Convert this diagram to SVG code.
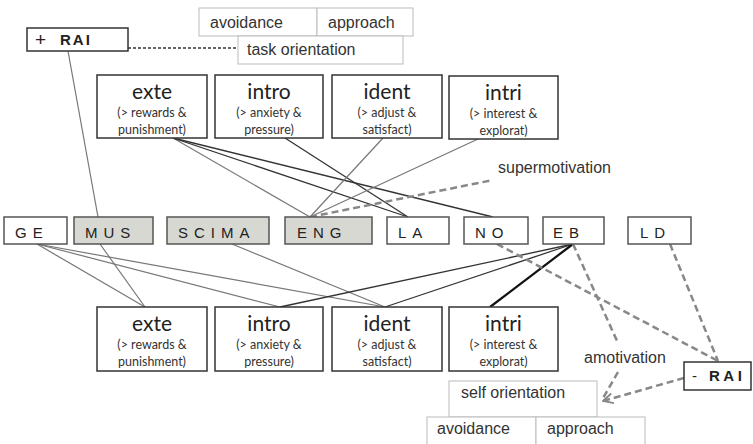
<svg xmlns="http://www.w3.org/2000/svg" width="753" height="444" viewBox="0 0 753 444">
  <style>
    .box { fill: #fff; stroke: #333; stroke-width: 1.5; }
    .mid { fill: #fff; stroke: #555; stroke-width: 1.5; }
    .mid.shade { fill: #d8d8d2; }
    .light { fill: #fff; stroke: #bbb; stroke-width: 1; }
    .title { font-family: Lato, "Open Sans", sans-serif; font-size: 21px; fill: #222; text-anchor: middle; }
    .sub { font-family: Lato, "Open Sans", sans-serif; font-size: 12.5px; fill: #333; text-anchor: middle; }
    .lbl { font-family: "Liberation Sans", Arial, sans-serif; font-size: 15px; fill: #222; letter-spacing: 6px; }
    .txt { font-family: "Liberation Sans", Arial, sans-serif; font-size: 16px; fill: #333; }
    .rai { font-family: "Liberation Sans", Arial, sans-serif; font-size: 15px; fill: #222; }
    .rai.sign { font-size: 19px; }
    .c-gray { stroke: #777; stroke-width: 1.2; fill: none; }
    .c-dark { stroke: #333; stroke-width: 1.3; fill: none; }
    .c-bold { stroke: #111; stroke-width: 2.2; fill: none; }
    .c-dash { stroke: #888; stroke-width: 2.5; stroke-dasharray: 7 4; fill: none; }
    .c-dot { stroke: #333; stroke-width: 1.5; stroke-dasharray: 3 2; fill: none; }
  </style>
  <defs>
    <marker id="arrow" viewBox="0 0 10 10" refX="9" refY="5" markerWidth="5" markerHeight="5" orient="auto" markerUnits="strokeWidth">
      <path d="M1,1 L9,5 L1,9" fill="none" stroke="#888" stroke-width="1.5"/>
    </marker>
  </defs>

  <!-- connectors -->
  <g id="connectors">
    <line class="c-dot" x1="128" y1="48" x2="238" y2="48"/>
    <line class="c-gray" x1="68" y1="51" x2="98" y2="217"/>
    <!-- upper motivation boxes to school subjects -->
    <line class="c-gray" x1="173" y1="138" x2="310" y2="217"/>
    <line class="c-dark" x1="173" y1="138" x2="408" y2="217"/>
    <line class="c-dark" x1="173" y1="138" x2="493" y2="217"/>
    <line class="c-dark" x1="285" y1="138" x2="408" y2="217"/>
    <line class="c-gray" x1="383" y1="138" x2="310" y2="217"/>
    <line class="c-gray" x1="478" y1="139" x2="310" y2="217"/>
    <line class="c-dash" x1="310" y1="217" x2="493" y2="180"/>
    <!-- school subjects to lower motivation boxes -->
    <line class="c-gray" x1="37" y1="244" x2="145" y2="307"/>
    <line class="c-gray" x1="37" y1="244" x2="280" y2="307"/>
    <line class="c-gray" x1="37" y1="244" x2="385" y2="307"/>
    <line class="c-gray" x1="100" y1="244" x2="145" y2="307"/>
    <line class="c-gray" x1="232" y1="244" x2="385" y2="307"/>
    <line class="c-dark" x1="573" y1="244" x2="280" y2="307"/>
    <line class="c-dark" x1="573" y1="244" x2="385" y2="307"/>
    <line class="c-bold" x1="573" y1="244" x2="490" y2="307"/>
    <!-- amotivation paths -->
    <line class="c-dash" x1="497" y1="244" x2="718" y2="361"/>
    <line class="c-dash" x1="670" y1="244" x2="718" y2="361"/>
    <line class="c-dash" x1="573" y1="244" x2="618" y2="343"/>
    <line class="c-dash" x1="618" y1="372" x2="602" y2="400"/>
    <line class="c-dash" x1="684" y1="378" x2="603" y2="401" marker-end="url(#arrow)"/>
  </g>

  <!-- task orientation -->
  <g id="task-avoidance">
    <rect class="light" x="199" y="8" width="118" height="28"/>
    <text class="txt" x="210" y="28">avoidance</text>
  </g>
  <g id="task-approach">
    <rect class="light" x="317" y="8" width="96" height="28"/>
    <text class="txt" x="328" y="28">approach</text>
  </g>
  <g id="task-orientation">
    <rect class="light" x="238" y="36" width="165" height="28"/>
    <text class="txt" x="247" y="55">task orientation</text>
  </g>
  <g id="rai-plus">
    <rect class="box" x="27" y="28" width="101" height="23"/>
    <text class="rai sign" x="35" y="46">+</text>
    <text class="rai" x="60" y="45" font-weight="bold" letter-spacing="2">RAI</text>
  </g>

  <!-- upper motivation boxes -->
  <g id="top-exte">
    <rect class="box" x="97" y="75" width="110" height="63"/>
    <text class="title" x="152" y="99">exte</text>
    <text class="sub" x="152" y="117">(&gt; rewards &amp;</text>
    <text class="sub" x="152" y="134">punishment)</text>
  </g>
  <g id="top-intro">
    <rect class="box" x="215" y="75" width="108" height="63"/>
    <text class="title" x="269" y="99">intro</text>
    <text class="sub" x="269" y="117">(&gt; anxiety &amp;</text>
    <text class="sub" x="269" y="134">pressure)</text>
  </g>
  <g id="top-ident">
    <rect class="box" x="332" y="75" width="110" height="63"/>
    <text class="title" x="387" y="99">ident</text>
    <text class="sub" x="387" y="117">(&gt; adjust &amp;</text>
    <text class="sub" x="387" y="134">satisfact)</text>
  </g>
  <g id="top-intri">
    <rect class="box" x="449" y="76" width="109" height="63"/>
    <text class="title" x="503.5" y="100">intri</text>
    <text class="sub" x="503.5" y="118">(&gt; interest &amp;</text>
    <text class="sub" x="503.5" y="135">explorat)</text>
  </g>

  <text class="txt" x="498" y="173">supermotivation</text>

  <!-- school subjects -->
  <g id="GE">
    <rect class="mid" x="4" y="217" width="63" height="27"/>
    <text class="lbl" x="15" y="238">GE</text>
  </g>
  <g id="MUS">
    <rect class="mid shade" x="74" y="217" width="79" height="27"/>
    <text class="lbl" x="85" y="238">MUS</text>
  </g>
  <g id="SCIMA">
    <rect class="mid shade" x="167" y="217" width="102" height="27"/>
    <text class="lbl" x="178" y="238">SCIMA</text>
  </g>
  <g id="ENG">
    <rect class="mid shade" x="285" y="217" width="87" height="27"/>
    <text class="lbl" x="297" y="238">ENG</text>
  </g>
  <g id="LA">
    <rect class="mid" x="387" y="217" width="62" height="27"/>
    <text class="lbl" x="398" y="238">LA</text>
  </g>
  <g id="NO">
    <rect class="mid" x="464" y="217" width="64" height="27"/>
    <text class="lbl" x="475" y="238">NO</text>
  </g>
  <g id="EB">
    <rect class="mid" x="543" y="217" width="61" height="27"/>
    <text class="lbl" x="553" y="238">EB</text>
  </g>
  <g id="LD">
    <rect class="mid" x="628" y="217" width="63" height="27"/>
    <text class="lbl" x="640" y="238">LD</text>
  </g>

  <!-- lower motivation boxes -->
  <g id="bottom-exte">
    <rect class="box" x="97" y="307" width="110" height="64"/>
    <text class="title" x="152" y="331">exte</text>
    <text class="sub" x="152" y="349">(&gt; rewards &amp;</text>
    <text class="sub" x="152" y="366">punishment)</text>
  </g>
  <g id="bottom-intro">
    <rect class="box" x="215" y="307" width="108" height="64"/>
    <text class="title" x="269" y="331">intro</text>
    <text class="sub" x="269" y="349">(&gt; anxiety &amp;</text>
    <text class="sub" x="269" y="366">pressure)</text>
  </g>
  <g id="bottom-ident">
    <rect class="box" x="332" y="307" width="110" height="64"/>
    <text class="title" x="387" y="331">ident</text>
    <text class="sub" x="387" y="349">(&gt; adjust &amp;</text>
    <text class="sub" x="387" y="366">satisfact)</text>
  </g>
  <g id="bottom-intri">
    <rect class="box" x="449" y="307" width="109" height="64"/>
    <text class="title" x="503.5" y="331">intri</text>
    <text class="sub" x="503.5" y="349">(&gt; interest &amp;</text>
    <text class="sub" x="503.5" y="366">explorat)</text>
  </g>

  <text class="txt" x="584" y="363">amotivation</text>

  <g id="rai-minus">
    <rect class="box" x="684" y="362" width="67" height="28"/>
    <text class="rai" x="692" y="381">-</text>
    <text class="rai" x="709" y="381" font-weight="bold" letter-spacing="3.5">RAI</text>
  </g>

  <!-- self orientation -->
  <g id="self-orientation">
    <rect class="light" x="449" y="381" width="148" height="36"/>
    <text class="txt" x="461" y="398">self orientation</text>
  </g>
  <g id="self-avoidance">
    <rect class="light" x="427" y="417" width="109" height="34"/>
    <text class="txt" x="437" y="434">avoidance</text>
  </g>
  <g id="self-approach">
    <rect class="light" x="536" y="417" width="109" height="34"/>
    <text class="txt" x="547" y="434">approach</text>
  </g>
</svg>
